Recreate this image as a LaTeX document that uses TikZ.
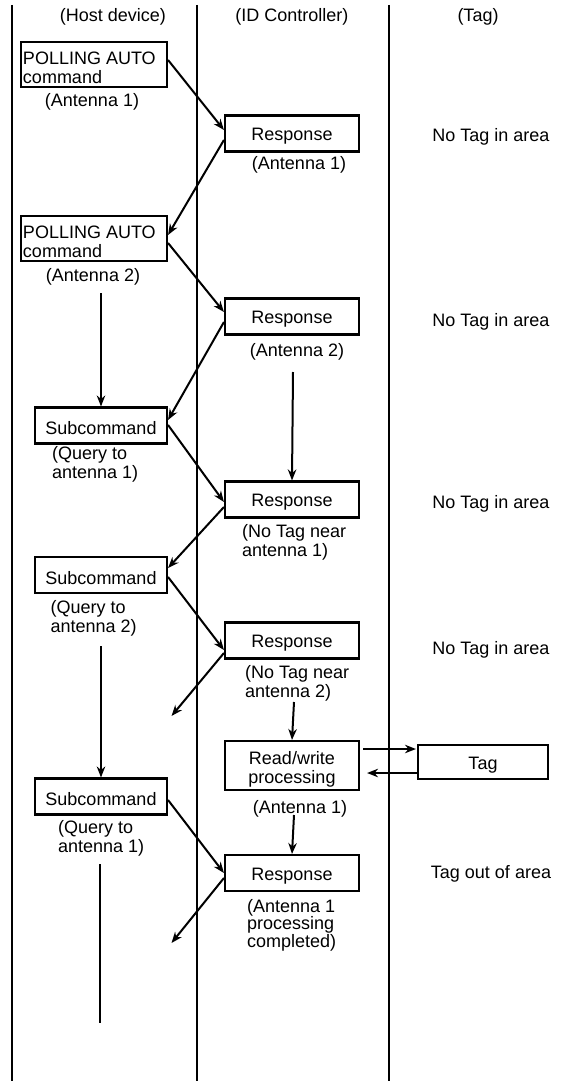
\documentclass[tikz,border=0pt]{standalone}
\usepackage{fontspec}
\setmainfont{Liberation Sans}
\usetikzlibrary{arrows.meta}
\newcommand\lowtxt[2][3pt]{\raisebox{-#1}[\height][\depth]{#2}}
\newcommand\leftlines[1]{\begin{tabular}{@{}l@{}}#1\end{tabular}}
\newcommand\midlines[1]{\begin{tabular}{@{}c@{}}#1\end{tabular}}
\begin{document}
\begin{tikzpicture}[x=1pt,y=1pt,
  font=\fontsize{18}{19}\selectfont,
  box/.style={draw, line width=2.1pt, inner sep=2pt},
  resp/.style={box, minimum width=134pt, minimum height=36pt},
  sub/.style={box, minimum width=132pt, minimum height=36pt},
  poll/.style={box, minimum width=146pt, minimum height=45pt},
  lane/.style={line width=2.1pt},
  lanethick/.style={line width=2.8pt},
  arr/.style={line width=2pt, -{Stealth[length=11pt,width=8.5pt]}},
  plain/.style={line width=2pt},
  lbl/.style={inner sep=0pt},
  ml/.style={inner sep=0pt, anchor=west, align=left}]
\useasboundingbox (0,0) rectangle (567,-1081);

% lanes
\coordinate (l1t) at (12,-5);   \coordinate (l1b) at (12,-1081);
\coordinate (l2t) at (197,-5);  \coordinate (l2b) at (197,-1081);
\coordinate (l3t) at (389,-5);  \coordinate (l3b) at (389,-1081);
\draw[lane] (l1t) -- (l1b);
\draw[lane] (l2t) -- (l2b);
\draw[lanethick] (l3t) -- (l3b);

% headers
\node[lbl] (hh) at (113,-17) {(Host device)};
\node[lbl] (hc) at (292,-17) {(ID Controller)};
\node[lbl] (ht) at (478,-17) {(Tag)};

% boxes
\node[poll] (p1) at (94,-64.5) {\lowtxt[6pt]{\makebox[142pt][l]{\leftlines{POLLING AUTO\\command}}}};
\node[resp] (r1) at (292,-133.5) {\lowtxt{Response}};
\node[poll] (p2) at (94,-238.5) {\lowtxt[6pt]{\makebox[142pt][l]{\leftlines{POLLING AUTO\\command}}}};
\node[resp] (r2) at (292,-316.5) {\lowtxt{Response}};
\node[sub] (s1) at (101,-425.5) {\lowtxt{Subcommand}};
\node[resp] (r3) at (292,-499.5) {\lowtxt{Response}};
\node[sub] (s2) at (101,-575) {\lowtxt{Subcommand}};
\node[resp] (r4) at (292,-640.5) {\lowtxt{Response}};
\node[box, minimum width=134pt, minimum height=49pt] (rw) at (292,-765.5) {\lowtxt[4.5pt]{\midlines{Read/write\\processing}}};
\node[box, minimum width=130pt, minimum height=34pt] (tag) at (483,-762) {\lowtxt{Tag}};
\node[sub] (s3) at (101,-796.5) {\lowtxt{Subcommand}};
\node[resp] (r5) at (292,-873) {\lowtxt{Response}};

% labels
\node[lbl] (a1) at (92,-102) {(Antenna 1)};
\node[lbl] (a1c) at (299,-165) {(Antenna 1)};
\node[lbl] (n1) at (491,-137) {No Tag in area};
\node[lbl] (a2) at (93,-277) {(Antenna 2)};
\node[lbl] (a2c) at (297,-352) {(Antenna 2)};
\node[lbl] (n2) at (491,-322) {No Tag in area};
\node[ml] (q1) at (52,-464) {(Query to\\antenna 1)};
\node[lbl] (n3) at (491,-504) {No Tag in area};
\node[ml] (nt1) at (242,-542) {(No Tag near\\antenna 1)};
\node[ml] (q2) at (50.5,-618) {(Query to\\antenna 2)};
\node[lbl] (n4) at (491,-650) {No Tag in area};
\node[ml] (nt2) at (245,-683) {(No Tag near\\antenna 2)};
\node[lbl] (a1r) at (300,-809) {(Antenna 1)};
\node[ml] (q3) at (58,-838) {(Query to\\antenna 1)};
\node[lbl] (n5) at (491,-874) {Tag out of area};
\node[ml, font=\fontsize{18}{17.5}\selectfont] (done) at (247,-925) {(Antenna 1\\processing\\completed)};

% free ends
\coordinate (v1s) at (101,-293);
\coordinate (v2s) at (293,-372);
\coordinate (v3s) at (101,-646);
\coordinate (v4s) at (294,-702);
\coordinate (v5s) at (294,-815);
\coordinate (v6s) at (100,-864);
\coordinate (v6e) at (100,-1023);
\coordinate (f1) at (171.5,-716);
\coordinate (f2) at (171.5,-943);

% diagonal messages
\draw[arr] ([yshift=4.5pt]p1.east) -- ([yshift=3.5pt]r1.west);
\draw[arr] ([yshift=-6.5pt]r1.west) -- ([yshift=3.5pt]p2.east);
\draw[arr] ([yshift=-4.5pt]p2.east) -- ([yshift=4.5pt]r2.west);
\draw[arr] ([yshift=-5.5pt]r2.west) -- ([yshift=5.5pt]s1.east);
\draw[arr] ([yshift=0.5pt]s1.east) -- ([yshift=-2.5pt]r3.west);
\draw[arr] ([yshift=-7.5pt]r3.west) -- ([yshift=7pt]s2.east);
\draw[arr] ([yshift=-2pt]s2.east) -- ([yshift=-9.5pt]r4.west);
\draw[arr] ([yshift=-12.5pt]r4.west) -- (f1);
\draw[arr] ([yshift=-3.5pt]s3.east) -- (r5.west);
\draw[arr] ([yshift=-5pt]r5.west) -- (f2);

% vertical flows
\draw[arr] (v1s) -- (s1.north);
\draw[arr] (v2s) -- (r3.north);
\draw[arr] (v3s) -- (s3.north);
\draw[arr] (v4s) -- (rw.north);
\draw[arr] (v5s) -- (r5.north);
\draw[plain] (v6s) -- (v6e);

% tag exchange
\draw[arr, shorten >=1pt] ([xshift=3pt,yshift=16.5pt]rw.east) -- ([yshift=13pt]tag.west);
\draw[arr] ([yshift=-11pt]tag.west) -- ([xshift=7pt,yshift=-7.5pt]rw.east);
\end{tikzpicture}
\end{document}
